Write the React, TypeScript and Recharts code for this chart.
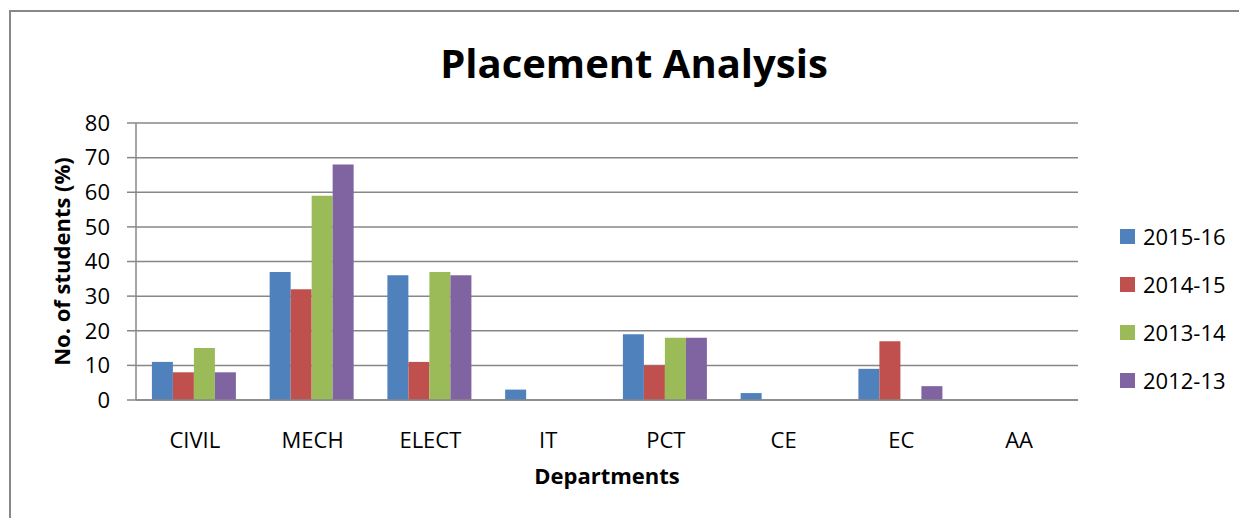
import { BarChart, Bar, XAxis, YAxis, CartesianGrid, Label } from 'recharts'

const departments = ['CIVIL', 'MECH', 'ELECT', 'IT', 'PCT', 'CE', 'EC', 'AA']
const y2015 = [11, 37, 36, 3, 19, 2, 9, 0]
const y2014 = [8, 32, 11, 0, 10, 0, 17, 0]
const y2013 = [15, 59, 37, 0, 18, 0, 0, 0]
const y2012 = [8, 68, 36, 0, 18, 0, 4, 0]
const yTicks = [0, 10, 20, 30, 40, 50, 60, 70, 80]

const SERIES = [
  { key: 'y2015', name: '2015-16', color: '#4F81BD' },
  { key: 'y2014', name: '2014-15', color: '#C0504D' },
  { key: 'y2013', name: '2013-14', color: '#9BBB59' },
  { key: 'y2012', name: '2012-13', color: '#8064A2' },
]

const FONT = '"Open Sans", "Liberation Sans", sans-serif'
const GRID = '#878787'

const data = departments.map((name, i) => ({
  name,
  y2015: y2015[i],
  y2014: y2014[i],
  y2013: y2013[i],
  y2012: y2012[i],
}))

// legend drawn outside the chart so it doesn't eat plot space
function LegendBox() {
  return (
    <div style={{ position: 'absolute', left: 1112, top: 204, fontFamily: FONT, fontSize: 22, color: '#000' }}>
      {SERIES.map(s => (
        <div key={s.key} style={{ height: 48, display: 'flex', alignItems: 'center' }}>
          <span style={{ width: 15, height: 15, background: s.color, display: 'inline-block', marginRight: 8 }} />
          <span>{s.name}</span>
        </div>
      ))}
    </div>
  )
}

export default function App() {
  return (
    <div style={{ position: 'relative', width: 1239, height: 510, background: '#fff' }}>
      <div
        style={{
          position: 'absolute', left: 1, top: 2, width: 1300, height: 600,
          borderLeft: '2px solid #888', borderTop: '2px solid #888', boxSizing: 'border-box',
        }}
      />
      <svg width={1239} height={100} style={{ position: 'absolute', left: 0, top: 0 }}>
        <text x={626} y={70} textAnchor="middle" fontFamily={FONT} fontWeight="bold" fontSize={40} fill="#000">
          Placement Analysis
        </text>
      </svg>
      <BarChart
        width={1239}
        height={510}
        data={data}
        margin={{ top: 115, right: 169, bottom: 0, left: 0 }}
        barCategoryGap="13.5%"
        barGap={0}
        style={{ position: 'absolute', left: 0, top: 0 }}
      >
        <CartesianGrid vertical={false} stroke={GRID} strokeWidth={1.5} />
        <XAxis
          dataKey="name"
          height={118}
          axisLine={{ stroke: GRID, strokeWidth: 1.5 }}
          tickLine={false}
          tickMargin={26}
          tick={{ fill: '#000', fontSize: 22, fontFamily: FONT }}
        >
          <Label
            content={({ viewBox }: any) => (
              <text
                x={viewBox.x + viewBox.width / 2}
                y={476}
                textAnchor="middle"
                fontFamily={FONT}
                fontWeight="bold"
                fontSize={22}
                fill="#000"
              >
                Departments
              </text>
            )}
          />
        </XAxis>
        <YAxis
          width={128}
          domain={[0, 80]}
          ticks={yTicks}
          interval={0}
          axisLine={{ stroke: GRID, strokeWidth: 1.5 }}
          tickLine={{ stroke: GRID, strokeWidth: 1.5 }}
          tickSize={9}
          tickMargin={17}
          tick={{ fill: '#000', fontSize: 22, fontFamily: FONT }}
        >
          <Label
            content={({ viewBox }: any) => {
              const cx = 62
              const cy = viewBox.y + viewBox.height / 2
              return (
                <text
                  x={cx}
                  y={cy}
                  transform={`rotate(-90 ${cx} ${cy})`}
                  textAnchor="middle"
                  fontFamily={FONT}
                  fontWeight="bold"
                  fontSize={22}
                  fill="#000"
                >
                  No. of students (%)
                </text>
              )
            }}
          />
        </YAxis>
        {SERIES.map(s => (
          <Bar key={s.key} dataKey={s.key} name={s.name} fill={s.color} isAnimationActive={false} />
        ))}
      </BarChart>
      <LegendBox />
    </div>
  )
}
